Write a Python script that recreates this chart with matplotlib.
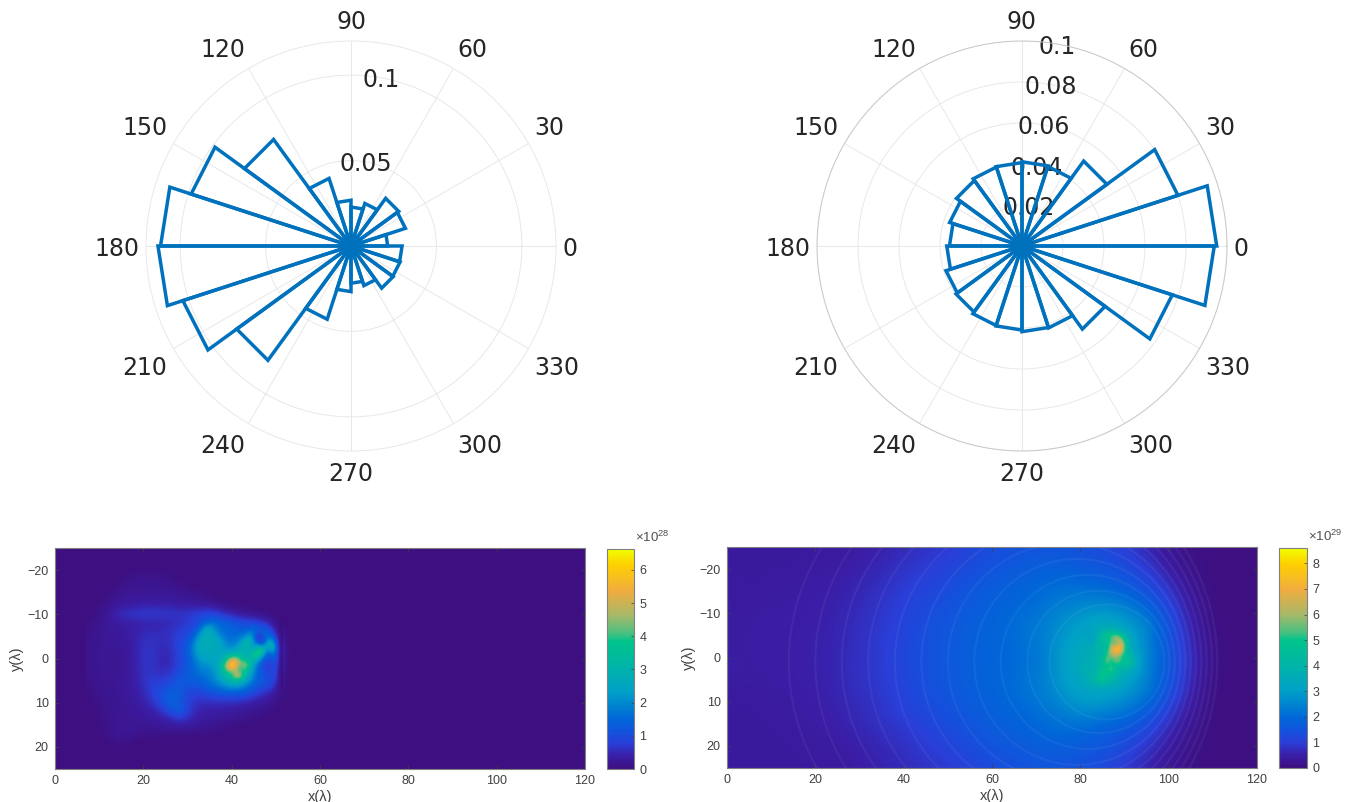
import numpy as np
import matplotlib
matplotlib.use("Agg")
import matplotlib.pyplot as plt
from matplotlib.colors import LinearSegmentedColormap
from matplotlib.patches import Ellipse

# Polar histograms, 20 bins of 18 degrees, starting at 0
bin_edges_deg = np.arange(0, 361, 18)
left_hist = [0.0215, 0.0335, 0.0345, 0.0262, 0.0228, 0.0268, 0.0416, 0.0771, 0.0984, 0.1115,
             0.1130, 0.1035, 0.0827, 0.0451, 0.0267, 0.0218, 0.0244, 0.0305, 0.0302, 0.0299]
right_hist = [0.0950, 0.0800, 0.0512, 0.0408, 0.0411, 0.0407, 0.0405, 0.0395, 0.0371, 0.0354,
              0.0367, 0.0390, 0.0398, 0.0408, 0.0410, 0.0418, 0.0420, 0.0501, 0.0771, 0.0938]
theta_ticks = list(range(0, 360, 30))
left_rticks = [0.05, 0.1]
right_rticks = [0.02, 0.04, 0.06, 0.08, 0.1]
left_rmax = 0.12
right_rmax = 0.1

# Left map, units of 1e28, read every 2 wavelengths
left_x = np.arange(8, 53, 2)
left_y = np.arange(-22, 23, 2)
left_map = [
    [0, 0, 0, 0, 0, 0, 0, 0, 0, 0, 0, 0, 0, 0, 0, 0, 0, 0, 0, 0, 0, 0, 0],
    [0, 0, 0, 0, 0, .03, .03, .03, .03, 0, 0, 0, 0, 0, 0, 0, 0, 0, 0, 0, 0, 0, 0],
    [0, 0, 0, 0, .08, .12, .15, .15, .12, .08, .03, 0, 0, 0, 0, 0, 0, 0, 0, 0, 0, 0, 0],
    [0, 0, 0, .08, .15, .18, .2, .2, .2, .15, .1, .05, 0, 0, 0, 0, 0, 0, 0, 0, 0, 0, 0],
    [0, 0, .08, .18, .22, .25, .25, .25, .25, .25, .22, .2, .15, .08, 0, 0, 0, 0, 0, 0, 0, 0, 0],
    [0, .05, .18, .25, .3, .35, .4, .42, .42, .4, .35, .35, .3, .3, .2, .1, .05, 0, 0, 0, 0, 0, 0],
    [0, .12, .22, .55, .65, .7, .75, .75, .72, .7, .65, .7, .8, .9, .85, .6, .4, .25, .15, .1, 0, 0, 0],
    [.05, .18, .25, .3, .35, .4, .42, .45, .45, .5, .6, .7, .9, 1.4, 1.6, 1.4, 1.2, 1.0, .9, .8, .5, .1, 0],
    [.1, .2, .25, .28, .32, .4, .5, .55, .55, .6, .75, .9, 1.3, 2.4, 2.3, 1.6, 1.5, 1.4, 1.8, 1.1, 1.3, .4, 0],
    [.12, .2, .25, .25, .3, .42, .58, .62, .55, .62, .85, 1.1, 2.0, 2.8, 2.7, 2.1, 1.7, 2.1, 2.9, .6, 2.0, 1.0, 0],
    [.14, .22, .25, .22, .25, .42, .62, .65, .5, .55, .9, 1.3, 2.3, 2.7, 2.6, 2.4, 2.3, 2.9, 2.6, 3.6, 1.8, 1.6, 0],
    [.14, .22, .22, .2, .22, .42, .65, .65, .48, .5, .9, 1.2, 2.0, 2.5, 2.5, 2.9, 4.6, 3.6, 3.0, 2.8, 1.1, 1.2, 0],
    [.14, .22, .22, .2, .22, .4, .62, .65, .5, .52, .9, 1.2, 1.7, 2.0, 2.3, 3.6, 6.2, 3.8, 3.4, 1.5, .7, 1.0, 0],
    [.12, .2, .22, .2, .25, .4, .62, .7, .6, .75, 1.1, 1.3, 1.6, 1.7, 2.0, 2.9, 3.8, 4.6, 2.4, 1.4, 1.0, .8, 0],
    [.08, .18, .2, .2, .28, .38, .58, .8, .85, 1.05, 1.3, 1.2, 1.2, 1.4, 1.7, 2.1, 2.5, 2.3, 1.7, 1.2, 1.0, .5, 0],
    [.05, .14, .2, .2, .25, .35, .5, .8, 1.1, 1.4, 1.3, .9, .8, .9, 1.1, 1.2, 1.2, 1.2, 1.0, .7, .5, .2, 0],
    [.02, .1, .18, .2, .25, .3, .4, .6, 1.0, 1.4, 1.3, .8, .6, .55, .55, .55, .55, .5, .4, .3, .2, .08, 0],
    [0, .08, .15, .2, .22, .28, .32, .4, .6, 1.0, 1.4, .8, .45, .4, .38, .35, .3, .25, .2, .15, .08, 0, 0],
    [0, .05, .12, .2, .22, .22, .25, .3, .32, .4, .55, .5, .35, .3, .25, .2, .18, .12, .08, 0, 0, 0, 0],
    [0, 0, .12, .25, .25, .2, .18, .2, .22, .25, .25, .22, .18, .15, .1, .06, 0, 0, 0, 0, 0, 0, 0],
    [0, 0, .06, .18, .18, .08, .04, 0, 0, 0, 0, 0, 0, 0, 0, 0, 0, 0, 0, 0, 0, 0, 0],
    [0, 0, 0, 0, 0, 0, 0, 0, 0, 0, 0, 0, 0, 0, 0, 0, 0, 0, 0, 0, 0, 0, 0],
    [0, 0, 0, 0, 0, 0, 0, 0, 0, 0, 0, 0, 0, 0, 0, 0, 0, 0, 0, 0, 0, 0, 0],
]

# Bright part of the left map, read every wavelength
left_core_x = np.arange(30, 52)
left_core_y = np.arange(-9, 9)
left_core = [
    [.7, .8, .9, 1.0, 1.2, 1.4, 1.4, 1.3, 1.2, 1.0, .9, .8, .7, .6, .6, .6, .5, .4, .3, .2, .1, 0],
    [.7, .8, .9, 1.1, 1.5, 1.8, 1.7, 1.5, 1.4, 1.3, 1.2, 1.1, 1.0, .9, .9, .9, .8, .8, .5, .3, .1, 0],
    [.8, .9, 1.1, 1.5, 2.2, 2.4, 2.0, 1.7, 1.5, 1.5, 1.4, 1.3, 1.2, 1.1, 1.2, 1.4, 1.2, 1.2, .9, .6, .2, 0],
    [.9, 1.0, 1.4, 2.0, 2.6, 2.7, 2.3, 1.9, 1.6, 1.5, 1.5, 1.4, 1.4, 1.5, 1.8, 1.7, 1.1, 1.4, 1.3, 1.0, .4, 0],
    [1.0, 1.2, 1.8, 2.4, 2.7, 2.8, 2.6, 2.2, 1.8, 1.6, 1.6, 1.6, 1.7, 2.0, 2.4, 1.6, .7, 1.0, 1.7, 1.3, .7, 0],
    [1.1, 1.5, 2.1, 2.6, 2.8, 2.8, 2.7, 2.5, 2.1, 1.8, 1.7, 1.8, 2.1, 2.8, 2.9, 1.9, .6, .9, 2.0, 2.2, 1.0, 0],
    [1.2, 1.7, 2.3, 2.7, 2.7, 2.8, 2.7, 2.6, 2.3, 2.0, 1.9, 2.1, 2.5, 3.2, 2.8, 2.2, 2.0, 1.6, 2.6, 3.2, 1.5, 0],
    [1.3, 1.8, 2.3, 2.6, 2.7, 2.7, 2.6, 2.6, 2.4, 2.3, 2.3, 2.5, 2.9, 3.0, 2.6, 2.8, 3.6, 3.8, 1.8, 2.8, 1.6, 0],
    [1.3, 1.7, 2.2, 2.5, 2.6, 2.6, 2.6, 2.5, 2.6, 2.8, 3.0, 3.1, 3.2, 2.9, 2.8, 3.8, 4.4, 2.6, 1.4, 1.7, 1.4, 0],
    [1.2, 1.6, 2.0, 2.3, 2.5, 2.5, 2.5, 2.6, 2.9, 3.6, 4.6, 4.6, 3.6, 3.1, 3.0, 3.4, 2.8, 1.6, 1.1, 1.2, 1.2, 0],
    [1.2, 1.5, 1.8, 2.1, 2.2, 2.3, 2.4, 2.7, 3.3, 4.6, 6.0, 5.6, 4.4, 4.4, 3.6, 2.6, 1.8, 1.2, .8, .9, 1.1, 0],
    [1.2, 1.4, 1.7, 1.9, 2.0, 2.1, 2.3, 2.7, 3.6, 5.0, 6.2, 5.0, 3.8, 4.6, 3.4, 2.2, 1.5, 1.0, .7, .8, 1.0, 0],
    [1.3, 1.4, 1.6, 1.8, 1.8, 1.9, 2.2, 2.6, 3.3, 4.0, 4.2, 4.6, 4.0, 3.6, 2.8, 2.0, 1.4, 1.1, .9, .9, .9, 0],
    [1.3, 1.4, 1.5, 1.6, 1.7, 1.8, 2.0, 2.4, 2.9, 3.3, 3.8, 5.0, 4.6, 3.2, 2.4, 1.8, 1.4, 1.1, 1.0, .9, .8, 0],
    [1.3, 1.3, 1.3, 1.4, 1.5, 1.7, 1.9, 2.2, 2.5, 2.9, 3.2, 3.4, 3.2, 2.6, 2.1, 1.7, 1.3, 1.2, 1.1, .9, .7, 0],
    [1.2, 1.2, 1.2, 1.3, 1.4, 1.6, 1.7, 1.9, 2.1, 2.3, 2.5, 2.5, 2.3, 2.0, 1.7, 1.4, 1.2, 1.1, 1.0, .8, .5, 0],
    [1.1, 1.0, 1.0, 1.0, 1.2, 1.3, 1.4, 1.5, 1.6, 1.7, 1.8, 1.8, 1.7, 1.5, 1.3, 1.1, 1.0, .9, .8, .6, .3, 0],
    [.9, .8, .8, .8, .9, 1.0, 1.1, 1.1, 1.2, 1.2, 1.2, 1.2, 1.2, 1.1, 1.0, .8, .7, .6, .5, .4, .2, 0],
]

# Right map, units of 1e29, read every 4 wavelengths
right_x = np.arange(0, 121, 4)
right_y = np.arange(-24, 25, 4)
right_map = [
    [.4, .4, .4, .4, .4, .4, .4, .45, .5, .6, .7, .8, .9, 1.0, 1.2, 1.3, 1.4, 1.5, 1.5, 1.5, 1.4, 1.3, 1.1, .9, .6, .3, .1, .05, 0, 0, 0],
    [.4, .4, .4, .4, .4, .45, .45, .5, .6, .7, .85, .95, 1.05, 1.2, 1.35, 1.5, 1.6, 1.7, 1.8, 1.8, 1.7, 1.6, 1.5, 1.2, .9, .5, .2, .05, 0, 0, 0],
    [.45, .4, .4, .45, .45, .5, .5, .6, .7, .8, .95, 1.1, 1.2, 1.4, 1.55, 1.7, 1.8, 1.9, 2.0, 2.1, 2.1, 2.0, 1.8, 1.6, 1.2, .8, .35, .1, 0, 0, 0],
    [.45, .4, .45, .45, .5, .5, .55, .65, .75, .9, 1.05, 1.2, 1.35, 1.5, 1.7, 1.8, 1.9, 2.0, 2.2, 2.4, 2.5, 2.6, 2.5, 2.2, 1.7, 1.1, .55, .15, 0, 0, 0],
    [.45, .45, .5, .5, .5, .5, .6, .7, .8, .95, 1.1, 1.3, 1.45, 1.6, 1.75, 1.85, 2.0, 2.2, 2.4, 2.7, 3.0, 3.3, 3.2, 2.8, 2.3, 1.4, .7, .2, 0, 0, 0],
    [.45, .45, .5, .5, .5, .55, .6, .7, .85, 1.0, 1.15, 1.35, 1.5, 1.65, 1.8, 1.9, 2.0, 2.2, 2.4, 2.9, 3.2, 3.6, 3.6, 3.0, 2.3, 1.5, .8, .3, 0, 0, 0],
    [.5, .45, .5, .5, .5, .55, .6, .75, .85, 1.0, 1.2, 1.35, 1.5, 1.65, 1.8, 1.85, 1.95, 2.1, 2.4, 3.0, 3.5, 3.8, 3.8, 3.1, 2.4, 1.6, .9, .35, .02, 0, 0],
    [.5, .45, .45, .5, .5, .55, .6, .75, .85, 1.0, 1.15, 1.35, 1.5, 1.65, 1.8, 1.9, 2.0, 2.2, 2.4, 3.0, 3.4, 3.7, 3.5, 3.0, 2.3, 1.5, .85, .3, 0, 0, 0],
    [.45, .4, .45, .45, .5, .5, .6, .7, .8, .95, 1.1, 1.3, 1.45, 1.6, 1.75, 1.85, 2.0, 2.2, 2.4, 2.8, 3.1, 3.2, 3.1, 2.7, 2.2, 1.4, .7, .2, 0, 0, 0],
    [.4, .4, .4, .45, .45, .5, .55, .65, .75, .9, 1.05, 1.2, 1.35, 1.5, 1.65, 1.8, 1.9, 2.0, 2.2, 2.4, 2.7, 2.6, 2.4, 2.1, 1.6, 1.0, .5, .15, 0, 0, 0],
    [.4, .4, .4, .4, .45, .45, .5, .6, .7, .8, .9, 1.05, 1.2, 1.35, 1.5, 1.65, 1.75, 1.85, 2.0, 2.1, 2.0, 1.9, 1.7, 1.5, 1.1, .7, .3, .1, 0, 0, 0],
    [.4, .4, .4, .4, .4, .45, .45, .5, .6, .7, .8, .95, 1.05, 1.2, 1.35, 1.5, 1.6, 1.7, 1.75, 1.75, 1.7, 1.6, 1.4, 1.1, .8, .45, .2, .05, 0, 0, 0],
    [.4, .4, .4, .4, .4, .4, .4, .45, .55, .6, .7, .8, .9, 1.0, 1.15, 1.3, 1.4, 1.5, 1.55, 1.5, 1.4, 1.3, 1.05, .85, .55, .3, .1, .05, 0, 0, 0],
]

# Bright core of the right map, read every wavelength
core_x = np.arange(80, 97)
core_y = np.arange(-8, 9)
core_map = [
    [3.0, 3.1, 3.2, 3.2, 3.3, 3.3, 3.3, 3.3, 3.2, 3.1, 3.0, 2.9, 2.8, 2.7, 2.6, 2.5, 2.4],
    [3.0, 3.0, 3.2, 3.3, 3.4, 3.6, 3.6, 3.6, 3.4, 3.3, 3.1, 3.0, 2.8, 2.7, 2.6, 2.5, 2.4],
    [3.1, 3.0, 3.1, 3.3, 3.5, 3.7, 4.0, 4.0, 3.9, 3.7, 3.4, 3.1, 2.9, 2.8, 2.7, 2.5, 2.4],
    [3.1, 3.2, 3.0, 3.2, 3.7, 4.4, 5.0, 5.0, 5.2, 4.8, 3.8, 3.3, 3.0, 2.8, 2.7, 2.5, 2.4],
    [3.2, 3.3, 3.2, 3.2, 3.8, 4.8, 4.4, 5.4, 6.4, 6.0, 4.6, 3.6, 3.1, 2.9, 2.7, 2.6, 2.4],
    [3.3, 3.4, 3.3, 3.4, 4.2, 4.4, 4.2, 6.0, 4.8, 7.2, 5.0, 3.6, 3.2, 2.9, 2.7, 2.6, 2.4],
    [3.4, 3.6, 3.4, 3.8, 4.0, 4.0, 4.4, 6.6, 7.8, 7.4, 5.2, 3.8, 3.2, 2.9, 2.8, 2.6, 2.4],
    [3.5, 3.4, 3.5, 3.8, 3.8, 4.0, 5.0, 6.4, 7.2, 6.6, 4.8, 4.0, 3.3, 3.0, 2.8, 2.6, 2.4],
    [3.5, 3.4, 3.6, 4.0, 3.8, 4.4, 5.4, 5.6, 5.8, 5.2, 4.6, 4.4, 3.6, 3.1, 2.8, 2.6, 2.5],
    [3.6, 3.9, 3.6, 3.8, 4.2, 4.6, 5.8, 4.6, 5.6, 5.4, 4.4, 4.8, 3.8, 3.2, 2.8, 2.6, 2.5],
    [4.4, 3.8, 3.6, 3.8, 4.0, 4.4, 4.6, 5.2, 4.6, 4.2, 4.4, 4.2, 3.6, 3.1, 2.8, 2.6, 2.4],
    [3.6, 4.0, 3.8, 3.8, 4.0, 5.2, 5.0, 5.6, 4.2, 3.8, 4.0, 3.6, 3.2, 3.0, 2.7, 2.6, 2.4],
    [3.4, 3.6, 3.8, 4.0, 4.0, 5.4, 4.4, 4.4, 4.0, 3.8, 3.5, 3.2, 3.0, 2.9, 2.7, 2.5, 2.4],
    [3.4, 3.6, 3.7, 3.8, 4.6, 5.0, 4.2, 4.2, 3.8, 3.5, 3.3, 3.1, 2.9, 2.8, 2.6, 2.5, 2.3],
    [3.3, 3.6, 3.8, 3.8, 4.0, 4.2, 4.0, 3.8, 3.6, 3.4, 3.2, 3.0, 2.9, 2.7, 2.6, 2.4, 2.3],
    [3.2, 3.4, 3.6, 3.6, 3.6, 3.7, 3.6, 3.5, 3.3, 3.2, 3.0, 2.9, 2.8, 2.6, 2.5, 2.4, 2.3],
    [3.0, 3.2, 3.4, 3.4, 3.4, 3.4, 3.3, 3.2, 3.1, 3.0, 2.9, 2.7, 2.6, 2.5, 2.4, 2.3, 2.2],
]

# Interference rings of the right map: left and right crossing of y=0
ring_left = [14, 20, 26, 32, 38, 44, 50, 56, 62, 68, 73]
ring_right = [111, 109.8, 108.6, 107.4, 106.2, 105, 103.8, 102.6, 101.4, 100.2, 99]

left_vmax = 6.63
right_vmax = 8.6
left_cticks = [0, 1, 2, 3, 4, 5, 6]
right_cticks = [0, 1, 2, 3, 4, 5, 6, 7, 8]
map_xticks = [0, 20, 40, 60, 80, 100, 120]
map_yticks = [-20, -10, 0, 10, 20]

W, H = 1356, 802

plt.rcParams['mathtext.fontset'] = 'custom'
plt.rcParams['mathtext.rm'] = 'Liberation Sans'
plt.rcParams['mathtext.default'] = 'regular'

map_font = 'Liberation Sans'

cmap = LinearSegmentedColormap.from_list('screen_parula', [
    (0.0, '#3d0f80'), (0.06, '#3a1fa8'), (0.116, '#2a3fd8'), (0.17, '#1253dc'), (0.23, '#0068d8'),
    (0.35, '#00a0c8'), (0.465, '#00b4a8'), (0.58, '#00c48c'), (0.62, '#4cc080'),
    (0.7, '#a8b868'), (0.81, '#f0ac40'), (0.93, '#ffd000'), (1.0, '#f0ff00')], N=256)


def px_axes(fig, x0, y0, x1, y1, **kw):
    return fig.add_axes([x0 / W, 1 - y1 / H, (x1 - x0) / W, (y1 - y0) / H], **kw)


def polar_panel(fig, cx, cy, values, rmax, rticks, rim):
    R = 205
    ax = px_axes(fig, cx - R, cy - R, cx + R, cy + R, projection='polar')
    ax.set_ylim(0, rmax)
    ax.set_thetagrids(theta_ticks, labels=[])
    ax.set_yticks(rticks)
    ax.set_yticklabels([])
    ax.grid(True, color='#e8e8e8', lw=0.7)
    ax.spines['polar'].set_color(rim)
    ax.spines['polar'].set_linewidth(0.7)
    ax.set_axisbelow(True)
    # angle labels hang off the rim, MATLAB style
    for t in theta_ticks:
        c, s = np.cos(np.radians(t)), np.sin(np.radians(t))
        ha = 'center' if abs(c) < 0.01 else ('left' if c > 0 else 'right')
        va = 'center_baseline' if abs(s) < 0.01 else ('bottom' if s > 0 else 'top')
        drop = -3 if s < -0.01 else 0
        ax.annotate(str(t), xy=(np.radians(t), rmax * 1.034), xytext=(0, drop),
                    textcoords='offset points', ha=ha, va=va, fontsize=17,
                    color='#262626', annotation_clip=False)
    for r in rticks:
        ax.text(np.radians(80), r, str(r), ha='center', va='center_baseline', fontsize=17,
                color='#262626', zorder=1.5)
    edges = np.radians(bin_edges_deg)
    for i in range(len(values)):
        ax.plot([0, edges[i], edges[i + 1], 0], [0, values[i], values[i], 0],
                color='#0072BD', lw=2.5, solid_joinstyle='miter', zorder=2, clip_on=False)
    return ax


def span(vals):
    step = vals[1] - vals[0]
    return vals[0] - step / 2, vals[-1] + step / 2


def edge_alpha(ny, nx, keep_right=False):
    # feather the overlay so it sinks into the coarser map below
    alpha = np.ones((ny, nx))
    alpha[1, :] = alpha[-2, :] = 0.5
    alpha[:, 1] = 0.5
    alpha[0, :] = alpha[-1, :] = 0
    alpha[:, 0] = 0
    if not keep_right:
        alpha[:, -2] = 0.5
        alpha[:, -1] = 0
    return alpha


def map_panel(fig, x0, y0, x1, y1, cx0, cx1, vmax, cticks, power, grids):
    ax = px_axes(fig, x0, y0, x1, y1)
    ax.set_facecolor(cmap(0))
    im = None
    for xs, ys, data, alpha in grids:
        xa, xb = span(xs)
        ya, yb = span(ys)
        im = ax.imshow(np.array(data, dtype=float), extent=(xa, xb, yb, ya), cmap=cmap, vmin=0, vmax=vmax,
                       interpolation='bicubic', aspect='auto', alpha=alpha, zorder=1)
    ax.set_xlim(0, 120)
    ax.set_ylim(25, -25)
    ax.set_xticks(map_xticks)
    ax.set_yticks(map_yticks)
    ax.tick_params(direction='in', length=3, width=0.5, color='#404040', top=True, right=True,
                   labelsize=9, labelcolor='#404040', pad=4.5, labelfontfamily=map_font)
    for s in ax.spines.values():
        s.set_color('#808080')
        s.set_linewidth(0.8)
    ax.set_xlabel('x(λ)', fontsize=10.5, color='#404040', family=map_font)
    ax.xaxis.set_label_coords(0.5, -0.093)
    ax.set_ylabel('y(λ)', fontsize=10.5, color='#404040', family=map_font)
    ax.yaxis.set_label_coords(-0.058, 0.5)

    cax = px_axes(fig, cx0, y0 + 1, cx1, y1)
    cb = fig.colorbar(im, cax=cax, ticks=cticks)
    cb.ax.tick_params(direction='in', length=2, width=0.5, color='#404040', labelsize=9,
                      labelcolor='#404040', pad=4, labelfontfamily=map_font)
    cb.outline.set_edgecolor('#808080')
    cb.outline.set_linewidth(0.8)
    cax.text(1.02, 1.02, '×10$^{%d}$' % power, transform=cax.transAxes, ha='left', va='bottom',
             fontsize=9.5, color='#505050', family=map_font)
    return ax


def main():
    fig = plt.figure(figsize=(W / 100, H / 100), dpi=100)

    polar_panel(fig, 351, 246, left_hist, left_rmax, left_rticks, '#e8e8e8')
    polar_panel(fig, 1022, 246, right_hist, right_rmax, right_rticks, '#c8c8c8')

    map_panel(fig, 55, 548, 585, 769, 607, 634, left_vmax, left_cticks, 28,
              [(left_x, left_y, left_map, None),
               (left_core_x, left_core_y, left_core, edge_alpha(len(left_core_y), len(left_core_x), True))])

    ax = map_panel(fig, 727, 547, 1257, 768, 1279, 1307, right_vmax, right_cticks, 29,
                   [(right_x, right_y, right_map, None),
                    (core_x, core_y, core_map, edge_alpha(len(core_y), len(core_x)))])
    for a, b in zip(ring_left, ring_right):
        ring = Ellipse(((a + b) / 2, 1), b - a, b - a, fill=False, edgecolor='white', alpha=0.05,
                       lw=1.5, zorder=2)
        ax.add_patch(ring)

    fig.savefig('out.png', dpi=100)


if __name__ == "__main__":
    main()
